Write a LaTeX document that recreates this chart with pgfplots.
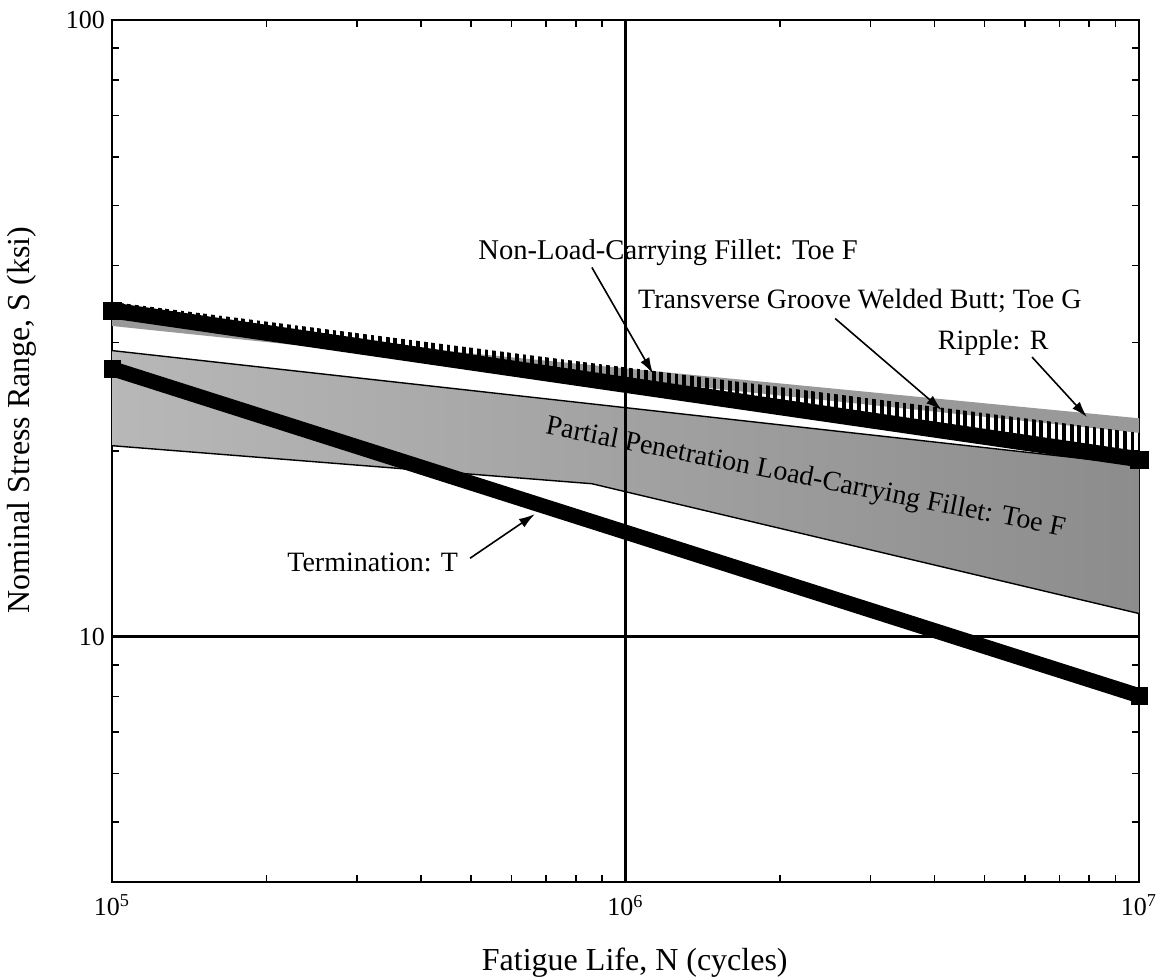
\documentclass[border=0pt]{standalone}
\usepackage{fontspec}
\setmainfont{Liberation Serif}
\usepackage{pgfplots}
\pgfplotsset{compat=1.18}
\usetikzlibrary{patterns.meta,arrows.meta}

\begin{document}
\begin{tikzpicture}
\begin{axis}[
  name=ax,
  xmode=log, ymode=log,
  scale only axis, width=513.5pt, height=431pt,
  xmin=1e5, xmax=1e7, ymin=4, ymax=100,
  xtick={1e5,1e6,1e7},
  xticklabels={10\textsuperscript{5},10\textsuperscript{6},10\textsuperscript{7}},
  ytick={10,100}, yticklabels={10,100},
  minor xtick={2e5,3e5,4e5,5e5,6e5,7e5,8e5,9e5,2e6,3e6,4e6,5e6,6e6,7e6,8e6,9e6},
  minor ytick={5,6,7,8,9,20,30,40,50,60,70,80,90},
  tick align=inside, tick pos=both,
  major tick length=6pt, minor tick length=3.5pt,
  every tick/.append style={black, line width=0.8pt},
  axis line style={line width=1.4pt},
  tick label style={font=\fontsize{13}{15}\selectfont},
  xticklabel style={yshift=-3pt},
  label style={font=\fontsize{16}{19}\selectfont},
  xlabel={Fatigue Life, N (cycles)},
  ylabel={Nominal Stress Range, S (ksi)},
  xlabel style={at={(axis description cs:0.509,-0.094)}, anchor=center},
  ylabel style={at={(axis description cs:-0.0876,0.536)}, anchor=center},
  clip=false,
]
% Ripple: R band
\addplot[draw=none, fill=black!40] coordinates {(1e5,32.8) (1e7,22.6) (1e7,21.4) (1e5,31.9)} -- cycle;
% Partial Penetration Load-Carrying Fillet band
\addplot[draw=none, left color=black!28, right color=black!45] coordinates {(1e5,29.1) (1e7,19.0) (1e7,10.9) (8.6e5,17.7) (1e5,20.4)} -- cycle;
\addplot[black, line width=0.7pt] coordinates {(1e5,29.1) (1e7,19.0)};
\addplot[black, line width=0.7pt] coordinates {(1e5,20.4) (8.6e5,17.7) (1e7,10.9)};
% grid lines
\addplot[black, line width=1.2pt] coordinates {(1e6,4) (1e6,100)};
\addplot[black, line width=1.2pt] coordinates {(1e5,10) (1e7,10)};
% Non-load-carrying fillet comb
\addplot[draw=none, pattern={Lines[angle=90,distance=3.8pt,line width=1.9pt]}] coordinates {(1e5,34.9) (1e7,21.4) (1e7,19.4) (1e5,33.8)} -- cycle;
% Transverse groove welded butt
\addplot[black, line width=8pt] coordinates {(1e5,33.8) (1e7,19.4)};
\addplot[only marks, line width=0.1pt, mark=square*, mark size=4.3pt, mark options={fill=black, draw=black}] coordinates {(1e5,33.8) (1e7,19.4)};
% Termination
\addplot[black, line width=7.5pt] coordinates {(1e5,27.2) (1e7,8.02)};
\addplot[only marks, line width=0.1pt, mark=square*, mark size=4.1pt, mark options={fill=black, draw=black}] coordinates {(1e5,27.2) (1e7,8.02)};

% annotations
\node[font=\fontsize{14.3}{16}\selectfont] at (axis cs:1.21e6,42.0) {Non-Load-Carrying Fillet: Toe F};
\draw[-{Latex[length=8pt,width=5pt]}, line width=0.8pt] (axis cs:8.6e5,39.7) -- (axis cs:1.131e6,26.7);
\node[font=\fontsize{14}{16}\selectfont] at (axis cs:2.86e6,35.0) {Transverse Groove Welded Butt; Toe G};
\draw[-{Latex[length=8pt,width=5pt]}, line width=0.8pt] (axis cs:2.56e6,32.8) -- (axis cs:4.13e6,23.3);
\node[font=\fontsize{14}{16}\selectfont] at (axis cs:5.2e6,30.0) {Ripple: R};
\draw[-{Latex[length=8pt,width=5pt]}, line width=0.8pt] (axis cs:6.19e6,28.4) -- (axis cs:7.92e6,22.7);
\node[font=\fontsize{14}{16}\selectfont, anchor=east] at (axis cs:4.87e5,13.2) {Termination: T};
\draw[-{Latex[length=8pt,width=5pt]}, line width=0.8pt] (axis cs:4.98e5,13.4) -- (axis cs:6.66e5,15.8);
\node[font=\fontsize{14}{16}\selectfont, rotate=-11.2] at (axis cs:2.24e6,18.05) {Partial Penetration Load-Carrying Fillet: Toe F};
\end{axis}
\pgfresetboundingbox
\path[use as bounding box] ([xshift=-56pt,yshift=-49pt]ax.south west) rectangle ([xshift=12pt,yshift=10pt]ax.north east);
\end{tikzpicture}
\end{document}
